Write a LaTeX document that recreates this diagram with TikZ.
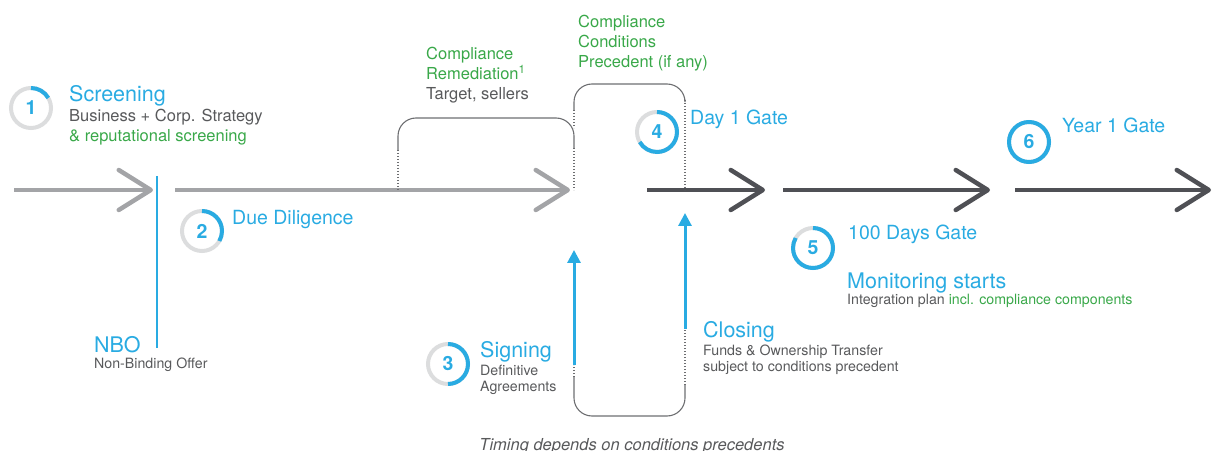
\documentclass[tikz,border=0pt]{standalone}
\usepackage{fontspec}
\setmainfont{TeX Gyre Heros}
\usetikzlibrary{arrows.meta}
\definecolor{cblue}{HTML}{29ABE2}
\definecolor{cgreen}{HTML}{39A849}
\definecolor{tgray}{HTML}{58595B}
\definecolor{lgray}{HTML}{A3A4A7}
\definecolor{dgray}{HTML}{4F5055}
\definecolor{bgray}{HTML}{6D6E71}
\definecolor{rgray}{HTML}{DCDDDE}

\begin{document}
\begin{tikzpicture}[x=1pt,y=1pt,
    tl/.style={line width=4.5pt,-{Straight Barb[length=32pt,width=40pt,round]}},
    light/.style={tl,draw=lgray}, dark/.style={tl,draw=dgray},
    brk/.style={draw=bgray,line width=1.1pt,rounded corners=18pt},
    dots/.style={draw=bgray,line width=1.1pt,dash pattern=on 1.2pt off 1.8pt},
    up/.style={draw=cblue,line width=3pt,-{Triangle[length=13pt,width=13pt]}},
    num/.style={text=cblue,font=\fontsize{19.5}{19.5}\selectfont\bfseries,inner sep=0pt},
    ringbg/.style={draw=rgray,line width=4pt},
    ringfg/.style={draw=cblue,line width=4pt},
    lbl/.style={anchor=base west,inner sep=0pt,align=left},
    head/.style={lbl,text=cblue,font=\fontsize{19.5}{23}\selectfont},
    big/.style={lbl,text=cblue,font=\fontsize{21.5}{25}\selectfont},
    sub/.style={lbl,text=tgray,font=\fontsize{16.5}{20}\selectfont},
    small/.style={lbl,text=tgray,font=\fontsize{14.2}{16}\selectfont}]

  \useasboundingbox (0,0) rectangle (1214,450);

  \foreach \i/\s/\e/\c in {1/14/153/light,2/175/570/light,3/647/765/dark,4/783/990/dark,5/1015/1211/dark}{
    \coordinate (s\i) at (\s,260);
    \coordinate (e\i) at (\e,260);
    \draw[\c] (s\i) -- (e\i);
  }

  \coordinate (nt) at (157,274);
  \coordinate (nb) at (157,102);
  \draw[cblue,line width=2.5pt] (nt) -- (nb);

  \coordinate (b1a) at (398,300);
  \coordinate (b1b) at (574,302);
  \draw[brk] (b1a) -- ++(0,32) -| (b1b);
  \draw[dots] (b1a) -- (b1a |- s2);
  \draw[dots] (b1b) -- (b1b |- s2);

  \coordinate (b2a) at (574,340);
  \coordinate (b2b) at (685,350);
  \draw[brk] (b2a) -- ++(0,26) -| (b2b);
  \draw[dots] (b2a) -- ++(0,-18);
  \draw[dots] (b2b) -- (b2b |- s3);

  \coordinate (sa) at (574,85);
  \coordinate (st) at (574,200);
  \coordinate (ca) at (685,121);
  \coordinate (ct) at (685,237);
  \coordinate (b3a) at (574,73);
  \coordinate (b3b) at (685,65);
  \draw[brk] (b3a) -- ++(0,-39) -| (b3b);
  \draw[dots] (b3a) -- (sa);
  \draw[dots] (b3b) -- (ca);
  \draw[up] (sa) -- (st);
  \draw[up] (ca) -- (ct);

  \foreach \n/\x/\y/\a in {1/31/342/30,2/202/219/-30,3/448/86/-90,4/657/318/-150,5/813/202/-210,6/1029/308/-270}{
    \node[num] (r\n) at (\x,\y) {\n};
    \draw[ringbg] (r\n.center) circle (20);
    \draw[ringfg] (r\n.center) ++(90:20) arc (90:\a:20);
  }

  \node[big] (scr) at (69,348) {Screening};
  \node[sub] (scrd) at (69,308) {Business + Corp. Strategy\\\textcolor{cgreen}{\& reputational screening}};
  \node[head] (dd) at (232,225) {Due Diligence};
  \node[sub,text=cgreen] (rem) at (426,350) {Compliance\\Remediation\textsuperscript{1}\\\textcolor{tgray}{Target, sellers}};
  \node[sub,text=cgreen] (cp) at (578,382) {Compliance\\Conditions\\Precedent (if any)};
  \node[head] (d1) at (690,325) {Day 1 Gate};
  \node[head] (y1) at (1062,317) {Year 1 Gate};
  \node[head] (g100) at (848,210) {100 Days Gate};
  \node[big] (mon) at (847,162) {Monitoring starts};
  \node[small] (int) at (847,146) {Integration plan \textcolor{cgreen}{incl. compliance components}};
  \node[big] (nbo) at (94,98) {NBO};
  \node[small] (nbod) at (94,82) {Non-Binding Offer};
  \node[big] (sig) at (480,93) {Signing};
  \node[small] (sigd) at (480,59) {Definitive\\Agreements};
  \node[big] (clo) at (703,113) {Closing};
  \node[small] (clod) at (703,79) {Funds \& Ownership Transfer\\subject to conditions precedent};
  \node[anchor=base,inner sep=0pt,text=tgray,font=\fontsize{16.5}{16.5}\selectfont\itshape] (tim) at (632,0) {Timing depends on conditions precedents};
\end{tikzpicture}
\end{document}
